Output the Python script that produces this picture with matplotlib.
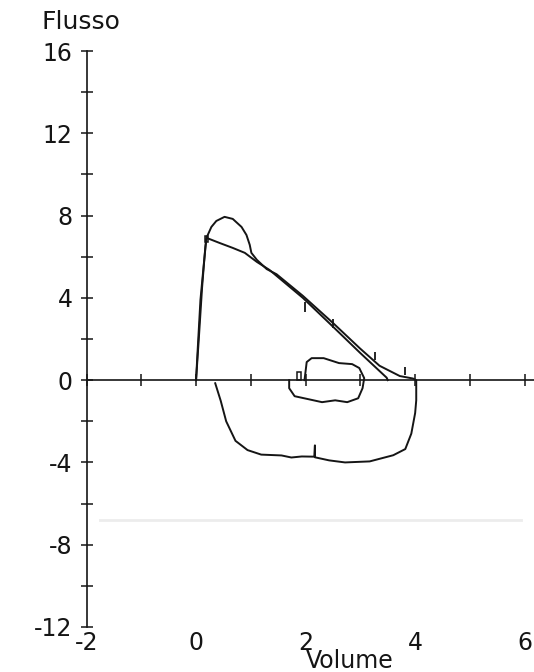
import matplotlib

matplotlib.use("Agg")

import matplotlib.pyplot as plt
import numpy as np

plt.rcParams["font.family"] = ["DejaVu Sans"]

# measured loop: expiratory limb then inspiratory limb
meas_vol = [0.0, 0.03, 0.08, 0.14, 0.19, 0.28, 0.37, 0.52, 0.67, 0.83, 0.92, 0.98, 1.01, 1.11,
            1.29, 1.47, 1.95, 2.5, 2.99, 3.35, 3.72, 3.96, 4.02,
            4.02, 4.0, 3.93, 3.82, 3.6, 3.17, 2.72, 2.43, 2.17, 2.17, 2.16, 1.93, 1.74, 1.56,
            1.19, 0.94, 0.72, 0.55, 0.45, 0.35]
meas_flow = [0.0, 1.5, 3.9, 5.6, 6.92, 7.45, 7.74, 7.94, 7.84, 7.45, 7.06, 6.58, 6.19, 5.85,
             5.4, 5.15, 4.1, 2.78, 1.55, 0.7, 0.2, 0.08, 0.0,
             -0.98, -1.6, -2.6, -3.35, -3.65, -3.95, -4.0, -3.9, -3.75, -3.17, -3.72, -3.71,
             -3.76, -3.66, -3.62, -3.4, -2.95, -2.0, -1.0, -0.15]

# predicted (straight) expiratory curve
pred_vol = [0.0, 0.05, 0.11, 0.17, 0.19, 0.43, 0.67, 0.89, 1.11, 1.34, 1.95, 2.5, 2.99, 3.48, 3.5]
pred_flow = [0.0, 2.0, 4.5, 6.5, 6.92, 6.67, 6.43, 6.19, 5.75, 5.36, 4.0, 2.6, 1.34, 0.12, 0.0]

# tidal breathing loop
tidal_vol = [1.7, 1.7, 1.8, 2.06, 2.3, 2.54, 2.76, 2.96, 3.04, 3.07, 2.98, 2.85, 2.61, 2.33,
             2.11, 2.02, 1.98]
tidal_flow = [0.0, -0.39, -0.78, -0.93, -1.07, -0.98, -1.07, -0.88, -0.39, 0.1, 0.59, 0.78,
              0.83, 1.07, 1.07, 0.88, 0.0]

# small vertical markers on the curves
mark_vol = [1.98, 2.5, 3.26, 3.81]
mark_lo = [3.3, 2.55, 1.0, 0.27]
mark_hi = [3.8, 2.95, 1.35, 0.66]

x_labels = [-2, 0, 2, 4, 6]
y_major = [-12, -8, -4, 0, 4, 8, 12, 16]

ink = "#151515"

fig = plt.figure(figsize=(5.34, 6.72), dpi=100)
ax = fig.add_axes([0.162, 0.067, 0.838, 0.857])
ax.set_xlim(-2, 6.17)
ax.set_ylim(-12, 16)

# faint scan line
ax.axhline(-6.8, xmin=0.03, xmax=0.97, color="#ececec", lw=2, zorder=0)

ax.plot(pred_vol, pred_flow, color=ink, lw=1.4)
ax.plot(meas_vol, meas_flow, color=ink, lw=1.4)
ax.plot(tidal_vol, tidal_flow, color=ink, lw=1.4)
ax.vlines(mark_vol, mark_lo, mark_hi, color=ink, lw=1.3)
ax.add_patch(plt.Rectangle((1.84, 0.0), 0.07, 0.4, fill=False, ec=ink, lw=1.1))
ax.add_patch(plt.Rectangle((0.16, 6.7), 0.05, 0.3, fill=False, ec=ink, lw=1.1))

for side in ("top", "right"):
    ax.spines[side].set_visible(False)
ax.spines["bottom"].set_position(("data", 0))
ax.spines["left"].set_bounds(-12, 16)
for side in ("bottom", "left"):
    ax.spines[side].set_color(ink)
    ax.spines[side].set_linewidth(1.2)

ax.set_xticks(np.arange(-2, 7, 1))
ax.set_xticklabels([])
ax.set_yticks(y_major)
ax.set_yticks(np.arange(-12, 17, 2), minor=True)
ax.set_yticklabels([str(v) for v in y_major])
ax.tick_params(axis="both", which="both", direction="inout", length=9, width=1.1, color=ink)
ax.tick_params(axis="y", which="major", labelsize=17, pad=5.5, labelcolor=ink)

sec = ax.secondary_xaxis(0)
sec.set_xticks(x_labels)
sec.set_xticklabels([str(v) for v in x_labels])
sec.spines["bottom"].set_visible(False)
sec.tick_params(length=0, labelsize=17, pad=3, labelcolor=ink)

fig.text(0.152, 0.967, "Flusso", fontsize=18, ha="center", va="center", color=ink)
fig.text(0.655, 0.017, "Volume", fontsize=17, ha="center", va="center", color=ink)

fig.savefig("out.png", dpi=100)
